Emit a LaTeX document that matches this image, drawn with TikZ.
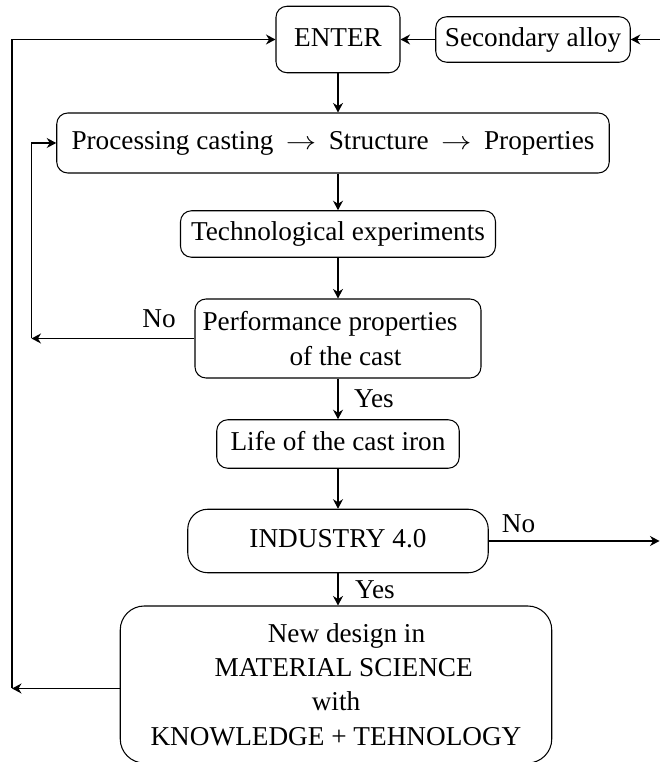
\documentclass[tikz,border=0pt]{standalone}
\usepackage{fontspec}
\setmainfont{Liberation Serif}
\usepackage{graphicx}
\usepackage{tikz}
\usetikzlibrary{arrows.meta}

\newcommand{\longarr}{\hspace{0.25cm}\scalebox{1.2}[1]{$\rightarrow$}\hspace{0.25cm}}

\begin{document}
\begin{tikzpicture}[
        font=\fontsize{15.5}{19.5}\selectfont,
        box/.style={draw, line width=0.6pt, rounded corners=0.22cm, align=center, inner sep=0pt},
        oneline/.style={text height=13.5pt, text depth=5.8pt},
        arr/.style={line width=0.7pt, -{Stealth[length=1.9mm,width=2mm]}},
        lbl/.style={anchor=base, inner sep=0pt}]
        \clip (0,0) rectangle (13.2,15.24);

        % boxes
        \node[box, oneline, minimum width=2.48cm, minimum height=1.33cm] (enter) at (6.76,14.45) {ENTER};
        \node[box, oneline, minimum width=3.89cm, minimum height=0.91cm] (sec) at (10.66,14.45) {Secondary alloy};
        \node[box, oneline, minimum width=11.05cm, minimum height=1.2cm] (proc) at (6.66,12.38)
            {Processing casting\longarr Structure\longarr Properties};
        \node[box, oneline, minimum width=6.3cm, minimum height=0.93cm] (tech) at (6.76,10.56) {Technological experiments};
        \node[box, minimum width=5.72cm, minimum height=1.58cm] (perf) at (6.76,8.47)
            {Performance properties\hspace*{0.32cm}\\\hspace*{0.3cm}of the cast};
        \node[box, oneline, minimum width=4.85cm, minimum height=0.97cm] (life) at (6.76,6.36) {Life of the cast iron};
        \node[box, oneline, rounded corners=0.4cm, minimum width=6.01cm, minimum height=1.27cm] (ind) at (6.76,4.42) {INDUSTRY 4.0};
        \node[box, rounded corners=0.48cm, minimum width=8.63cm, minimum height=3.14cm] (new) at (6.72,1.55)
            {\hspace*{0.42cm}New design in\\\hspace*{0.31cm}MATERIAL SCIENCE\\with\hspace*{0.36cm}\\KNOWLEDGE + TEHNOLOGY};

        % free ends of the loops
        \coordinate (inR) at (13.3,14.45);
        \coordinate (outR) at (13.19,4.42);
        \coordinate (loopA) at (0.63,8.47);
        \coordinate (loopB) at (0.24,1.47);

        % main line
        \draw[arr] (inR) -- (sec.east);
        \draw[arr] (sec.west) -- (enter.east);
        \draw[arr] (enter.south) -- (enter.south |- proc.north);
        \draw[arr] (proc.south -| tech.north) -- (tech.north);
        \draw[arr] (tech.south) -- (perf.north);
        \draw[arr] (perf.south) -- (life.north);
        \draw[arr] (life.south) -- (ind.north);
        \draw[arr] (ind.south) -- (ind.south |- new.north);
        \draw[arr] (ind.east) -- (outR);

        % back loops
        \draw[arr] (perf.west) -- (loopA);
        \draw[arr] (loopA) |- (proc.west);
        \draw[arr] (new.west |- loopB) -- (loopB);
        \draw[arr] (loopB) |- (enter.west);

        % answers
        \node[lbl] (no1) at (3.18,8.69) {No};
        \node[lbl] (yes1) at (7.48,7.08) {Yes};
        \node[lbl] (no2) at (10.37,4.58) {No};
        \node[lbl] (yes2) at (7.5,3.26) {Yes};
\end{tikzpicture}
\end{document}
